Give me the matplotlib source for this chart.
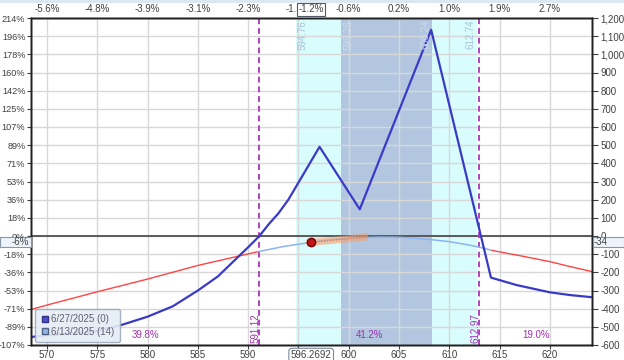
import matplotlib.pyplot as plt
import matplotlib.transforms as mtransforms
from matplotlib.lines import Line2D
from matplotlib.patches import Rectangle

plt.rcParams['font.family'] = ['Liberation Sans', 'DejaVu Sans']

# expiration P&L (6/27/2025)
exp_x = [568.4, 570, 572.5, 575, 577.5, 580, 582.5, 585, 587, 589, 590, 591.12,
         592, 593, 594, 597.1, 601.1, 608.2, 614.15, 616.7, 620, 622, 624.2]
exp_y = [-556, -546, -536, -523, -488, -444, -387, -300, -222, -115, -62, 0,
         62, 124, 200, 491, 147, 1135, -229, -270, -310, -325, -337]

# T+0 P&L (6/13/2025)
now_x = [568.4, 570, 575, 580, 585, 589.5, 591.0, 593.5, 596.3, 598, 600, 603,
         605, 607.5, 610, 612, 613.1, 614.3, 617, 620, 622, 624.2]
now_y = [-405, -380, -307, -237, -162, -105, -86, -58, -34, -22, -12, -6,
         -7, -16, -31, -50, -63, -80, -108, -141, -168, -196]

price = 596.2692
price_pnl = -34
sd1_lo, sd1_hi = 594.76, 612.74
sd_lo, sd_hi = 599.26, 608.24
breakevens = [591.12, 612.97]
zone_pct = [(579.8, '39.8%'), (602.1, '41.2%'), (618.6, '19.0%')]
orange_x = [595.8, 601.9]
orange_y = [-38, -5]

xticks = [570, 575, 580, 585, 590, 595, 600, 605, 610, 615, 620]
xlabels = ['570', '575', '580', '585', '590', '', '600', '605', '610', '615', '620']
top_labels = ['-5.6%', '-4.8%', '-3.9%', '-3.1%', '-2.3%', '-1.5%', '-0.6%',
              '0.2%', '1.0%', '1.9%', '2.7%']
yticks = list(range(-600, 1201, 100))
left_labels = ['-107%', '-89%', '-71%', '-53%', '-36%', '-18%', '0%', '18%', '36%',
               '53%', '71%', '89%', '107%', '125%', '142%', '160%', '178%', '196%', '214%']
right_labels = [f'{v:,}' for v in yticks]

fig = plt.figure(figsize=(6.24, 3.6), dpi=100)
ax = fig.add_axes([31 / 624, 15 / 360, 561 / 624, 327 / 360])
xmin, xmax = 568.4, 624.2
ax.set_xlim(xmin, xmax)
ax.set_ylim(-600, 1200)

tc = '#404040'
fs = 7

ax.axvspan(sd1_lo, sd1_hi, color='#d9fcfd', zorder=0.1, lw=0)
ax.axvspan(sd_lo, sd_hi, color='#b2c6e0', zorder=0.2, lw=0)
ax.set_axisbelow(True)
ax.grid(True, color='#d8d8d8', lw=1)

ax.axhline(0, color='#505050', lw=1.3, zorder=1.5)

for b in breakevens:
    ax.axvline(b, color='#b040c0', lw=1.4, ls=(0, (3, 2)), zorder=1.6)

# T+0 line: red outside, light blue inside
split_l, split_r = 6, 17
ax.plot(now_x[:split_l + 1], now_y[:split_l + 1], color='#ff4444', lw=1, zorder=2)
ax.plot(now_x[split_l:split_r + 1], now_y[split_l:split_r + 1], color='#8cb4f0', lw=1.1, zorder=2)
ax.plot(now_x[split_r:], now_y[split_r:], color='#ff4444', lw=1, zorder=2)

ax.plot(exp_x, exp_y, color='#3a3ac8', lw=1.6, zorder=3)

ax.plot(orange_x, orange_y, color='#f4a070', lw=5, alpha=0.6, solid_capstyle='butt', zorder=3.5)
ax.plot(orange_x, orange_y, color='#e07040', lw=0.8, ls=':', zorder=3.6)
ax.plot([price], [price_pnl], 'o', ms=6, mfc='#c01818', mec='#700000', mew=1, zorder=4)

# boundary labels
ax.text(sd1_lo + 0.2, 1190, f'{sd1_lo:.2f}', rotation=90, ha='left', va='top',
        color='#a8c2dc', fontsize=fs)
ax.text(sd_lo + 0.2, 1190, f'{sd_lo:.2f}', rotation=90, ha='left', va='top',
        color='#d0dcec', fontsize=fs)
ax.text(sd_hi - 0.1, 1190, f'{sd_hi:.2f}', rotation=90, ha='right', va='top',
        color='#d0dcec', fontsize=fs)
ax.text(sd1_hi - 0.1, 1190, f'{sd1_hi:.2f}', rotation=90, ha='right', va='top',
        color='#a8c2dc', fontsize=fs)
for b in breakevens:
    ax.text(b + 0.1, -590, f'{b:.2f}', rotation=90, ha='right', va='bottom',
            color='#a030b0', fontsize=fs)
for x, s in zone_pct:
    ax.text(x, -545, s, ha='center', va='center', color='#a030b0', fontsize=fs)

ax.set_xticks(xticks)
ax.set_xticklabels(xlabels)
ax.set_yticks(yticks)
ax.set_yticklabels(left_labels)
ax.tick_params(axis='y', labelsize=6.6, colors=tc, length=3, width=0.8, pad=1)
ax.tick_params(axis='x', labelsize=fs, colors=tc, length=3, width=0.8, pad=0.5)

ax2 = ax.twinx()
ax2.set_ylim(-600, 1200)
ax2.set_yticks(yticks)
ax2.set_yticklabels(right_labels)
ax2.tick_params(axis='y', labelsize=fs, colors=tc, length=4, width=0.8, pad=2)

ax3 = ax.twiny()
ax3.set_xlim(xmin, xmax)
ax3.set_xticks(xticks)
ax3.set_xticklabels(top_labels)
ax3.tick_params(axis='x', labelsize=fs, colors=tc, length=0, pad=3)

for a in (ax, ax2, ax3):
    for sp in a.spines.values():
        sp.set_color('#202020')
        sp.set_linewidth(1)

# price box on top and bottom axis
ax3.text(price, 1.012, '-1.2%', transform=mtransforms.blended_transform_factory(ax.transData, ax.transAxes),
         ha='center', va='bottom', fontsize=fs, color=tc, clip_on=False, zorder=10,
         bbox=dict(boxstyle='square,pad=0.15', fc='white', ec='#505a66', lw=0.8))
ax3.text(price, -0.016, f'{price:.4f}', transform=mtransforms.blended_transform_factory(ax.transData, ax.transAxes),
         ha='center', va='top', fontsize=fs, color=tc, clip_on=False, zorder=10,
         bbox=dict(boxstyle='round,pad=0.2,rounding_size=0.3', fc='white', ec='#7a8a9a', lw=0.8))

# current P&L boxes on both side axes
bt = mtransforms.blended_transform_factory(fig.transFigure, ax.transData)
box_h = 58
fig.patches.append(Rectangle((0, price_pnl - box_h / 2), 30.5 / 624, box_h, transform=bt,
                             fc='#eef4fb', ec='#8898a8', lw=0.8, zorder=5))
fig.patches.append(Rectangle((592.5 / 624, price_pnl - box_h / 2), 31 / 624, box_h, transform=bt,
                             fc='#eef4fb', ec='#8898a8', lw=0.8, zorder=5))
fig.text(29 / 624, price_pnl, '-6%', transform=bt, ha='right', va='center',
         fontsize=fs, color=tc, zorder=6)
fig.text(594 / 624, price_pnl, f'{price_pnl}', transform=bt, ha='left', va='center',
         fontsize=fs, color=tc, zorder=6)

# header strip
fig.patches.append(Rectangle((0, 357 / 360), 1, 3 / 360, transform=fig.transFigure,
                             fc='#dde7f3', ec='none'))

handles = [Line2D([], [], marker='s', ls='none', ms=5, mfc='#5050c8', mec='#303080'),
           Line2D([], [], marker='s', ls='none', ms=5, mfc='#94b8ec', mec='#506080')]
leg = ax3.legend(handles, ['6/27/2025 (0)', '6/13/2025 (14)'], loc='lower left',
                 bbox_to_anchor=(0.007, 0.01), fontsize=fs, frameon=True, fancybox=True,
                 handletextpad=0.2, borderpad=0.5, labelspacing=0.3, handlelength=1,
                 borderaxespad=0)
leg.get_frame().set_facecolor('#e6edf5')
leg.get_frame().set_edgecolor('#9aaabb')
leg.get_frame().set_alpha(0.9)
for t in leg.get_texts():
    t.set_color('#606070')

fig.savefig('out.png', dpi=100)
